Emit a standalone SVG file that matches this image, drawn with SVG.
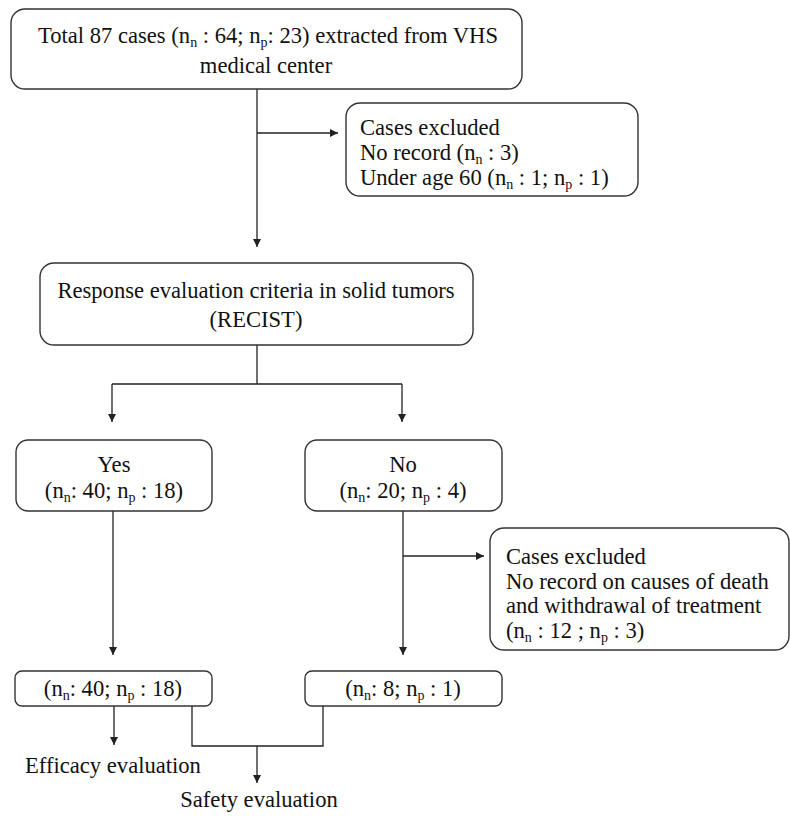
<svg xmlns="http://www.w3.org/2000/svg" width="790" height="816" viewBox="0 0 790 816">
<defs>
<marker id="ah" viewBox="0 0 10 10" refX="10" refY="5" markerWidth="8" markerHeight="8" markerUnits="userSpaceOnUse" orient="auto">
<path d="M0,0 L10,5 L0,10 z" fill="#222"/>
</marker>
<style>
.box{fill:#fff;stroke:#333;stroke-width:1.4}
.t{font-family:"Liberation Serif","Times New Roman",serif;font-size:22.6px;fill:#111}
.c{text-anchor:middle}
.s{font-size:14px}
.ln{fill:none;stroke:#222;stroke-width:1.3}
.ar{fill:none;stroke:#222;stroke-width:1.3;marker-end:url(#ah)}
</style>
</defs>
<rect width="790" height="816" fill="#fff"/>

<g id="connectors">
<path class="ar" d="M257,89 V247"/>
<path class="ar" d="M257,133 H338"/>
<path class="ln" d="M257,345 V384 M112,384 H402"/>
<path class="ar" d="M112,384 V422"/>
<path class="ar" d="M402,384 V422"/>
<path class="ar" d="M113,511 V655"/>
<path class="ar" d="M403,511 V655"/>
<path class="ar" d="M403,556 H484"/>
<path class="ar" d="M114,706 V745"/>
<path class="ln" d="M192,706 V746 H323 V706"/>
<path class="ar" d="M257,746 V783"/>
</g>

<g id="total">
<rect class="box" x="11" y="9" width="511" height="80" rx="14"/>
<text class="t c" x="268" y="43">Total 87 cases (n<tspan class="s" dy="3.5">n</tspan><tspan dy="-3.5"> : 64; n</tspan><tspan class="s" dy="3.5">p</tspan><tspan dy="-3.5">: 23) extracted from VHS</tspan></text>
<text class="t c" x="266" y="73">medical center</text>
</g>

<g id="excluded1">
<rect class="box" x="346" y="103" width="292" height="93" rx="14"/>
<text class="t" x="360" y="135">Cases excluded</text>
<text class="t" x="360" y="160">No record (n<tspan class="s" dy="3.5">n</tspan><tspan dy="-3.5"> : 3)</tspan></text>
<text class="t" x="360" y="185">Under age 60 (n<tspan class="s" dy="3.5">n</tspan><tspan dy="-3.5"> : 1; n</tspan><tspan class="s" dy="3.5">p</tspan><tspan dy="-3.5"> : 1)</tspan></text>
</g>

<g id="recist">
<rect class="box" x="40" y="263" width="433" height="82" rx="14"/>
<text class="t c" x="256" y="298">Response evaluation criteria in solid tumors</text>
<text class="t c" x="256" y="327">(RECIST)</text>
</g>

<g id="yes">
<rect class="box" x="16" y="440" width="196" height="71" rx="12"/>
<text class="t c" x="114" y="472">Yes</text>
<text class="t c" x="114" y="498">(n<tspan class="s" dy="3.5">n</tspan><tspan dy="-3.5">: 40; n</tspan><tspan class="s" dy="3.5">p</tspan><tspan dy="-3.5"> : 18)</tspan></text>
</g>

<g id="no">
<rect class="box" x="305" y="440" width="197" height="71" rx="12"/>
<text class="t c" x="403" y="472">No</text>
<text class="t c" x="403" y="498">(n<tspan class="s" dy="3.5">n</tspan><tspan dy="-3.5">: 20; n</tspan><tspan class="s" dy="3.5">p</tspan><tspan dy="-3.5"> : 4)</tspan></text>
</g>

<g id="excluded2">
<rect class="box" x="490" y="528" width="299" height="122" rx="14"/>
<text class="t" x="506" y="564">Cases excluded</text>
<text class="t" x="506" y="589">No record on causes of death</text>
<text class="t" x="506" y="613">and withdrawal of treatment</text>
<text class="t" x="506" y="638">(n<tspan class="s" dy="3.5">n</tspan><tspan dy="-3.5"> : 12 ; n</tspan><tspan class="s" dy="3.5">p</tspan><tspan dy="-3.5"> : 3)</tspan></text>
</g>

<g id="yes-final">
<rect class="box" x="15" y="671" width="197" height="35" rx="7"/>
<text class="t c" x="113" y="696">(n<tspan class="s" dy="3.5">n</tspan><tspan dy="-3.5">: 40; n</tspan><tspan class="s" dy="3.5">p</tspan><tspan dy="-3.5"> : 18)</tspan></text>
</g>

<g id="no-final">
<rect class="box" x="305" y="671" width="197" height="35" rx="7"/>
<text class="t c" x="403" y="696">(n<tspan class="s" dy="3.5">n</tspan><tspan dy="-3.5">: 8; n</tspan><tspan class="s" dy="3.5">p</tspan><tspan dy="-3.5"> : 1)</tspan></text>
</g>

<g id="efficacy">
<text class="t c" x="113" y="773">Efficacy evaluation</text>
</g>

<g id="safety">
<text class="t c" x="259" y="807">Safety evaluation</text>
</g>
</svg>
